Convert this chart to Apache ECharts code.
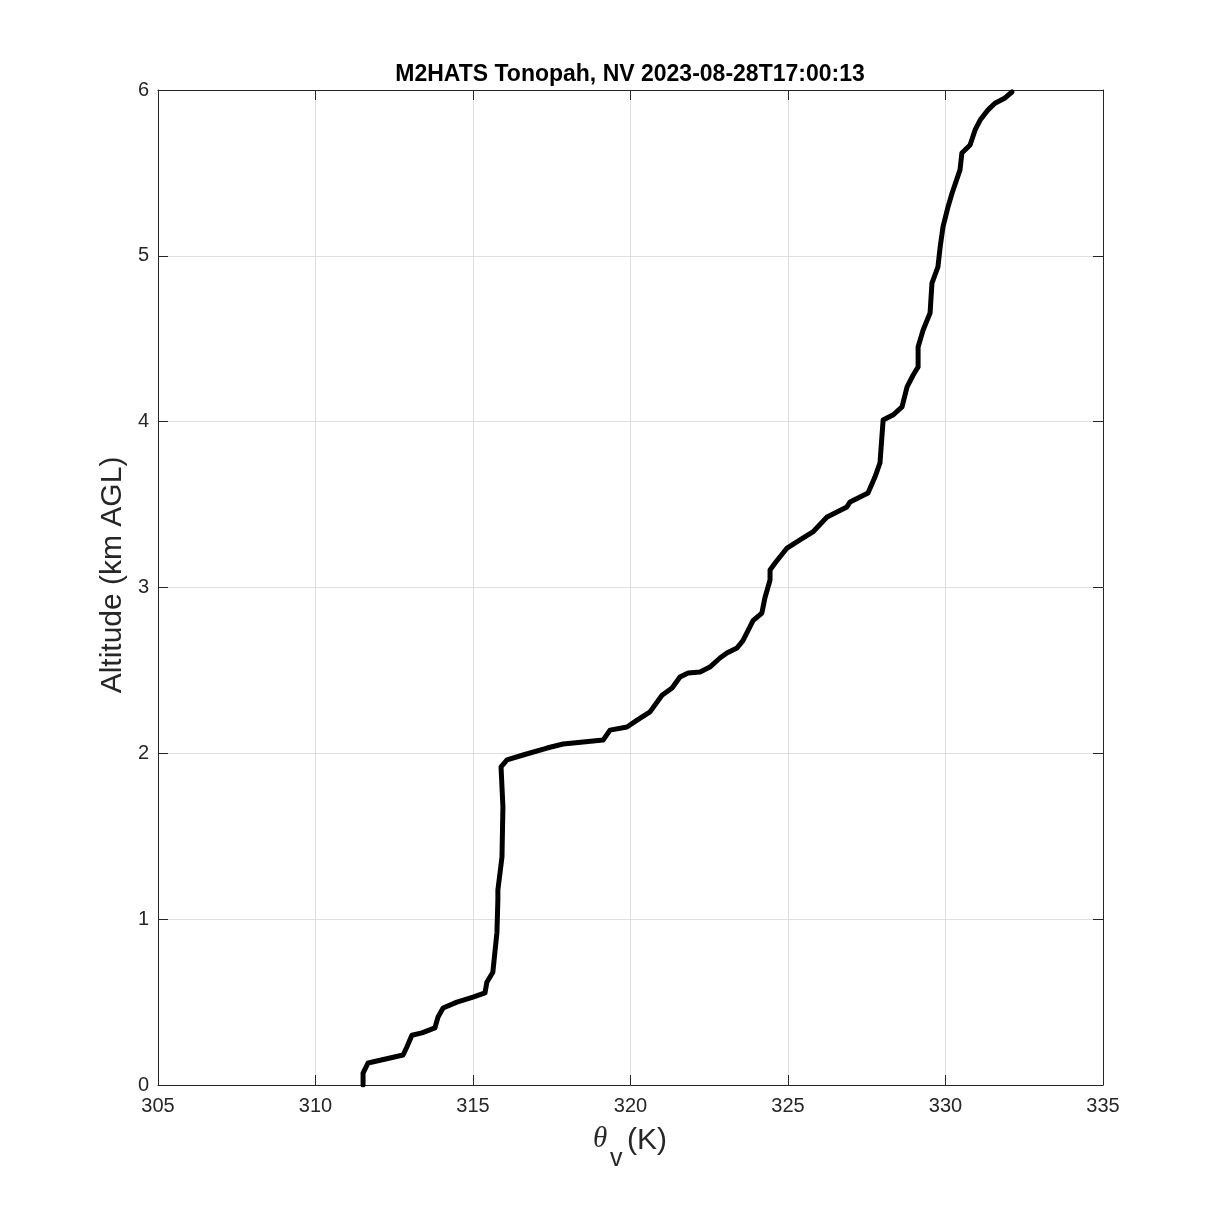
<!DOCTYPE html>
<html>
<head>
<meta charset="utf-8">
<script src="https://cdn.jsdelivr.net/npm/echarts@6/dist/echarts.min.js"></script>
<style>
html,body{margin:0;padding:0;background:#fff;}
#c{width:1219px;height:1219px;}
</style>
</head>
<body>
<div id="c"></div>
<script>
// Virtual potential temperature (K)
const thetaV = [311.51, 311.51, 311.67, 312.78, 312.90, 313.06, 313.38, 313.79, 313.89, 314.05,
  314.49, 315.00, 315.38, 315.44, 315.63, 315.70, 315.76, 315.79, 315.79, 315.92, 315.95, 315.89,
  316.08, 316.59, 317.35, 317.86, 318.50, 319.13, 319.35, 319.89, 320.21, 320.62, 321.00, 321.32,
  321.57, 321.83, 322.21, 322.52, 322.84, 323.06, 323.38, 323.57, 323.89, 324.17, 324.27, 324.43,
  324.43, 324.59, 324.97, 325.38, 325.79, 326.24, 326.87, 326.97, 327.54, 327.76, 327.92, 328.02,
  328.14, 328.33, 328.62, 328.78, 328.97, 329.13, 329.13, 329.29, 329.51, 329.57, 329.76, 329.83,
  329.92, 330.08, 330.21, 330.46, 330.52, 330.78, 330.94, 331.10, 331.35, 331.57, 331.89, 332.11];
// Altitude (km AGL)
const altitude = [0.000, 0.072, 0.133, 0.181, 0.229, 0.300, 0.314, 0.344, 0.410, 0.464,
  0.500, 0.530, 0.555, 0.620, 0.680, 0.810, 0.920, 1.120, 1.176, 1.375, 1.676, 1.918,
  1.960, 1.990, 2.032, 2.056, 2.068, 2.080, 2.140, 2.159, 2.200, 2.250, 2.350, 2.394,
  2.460, 2.485, 2.490, 2.520, 2.575, 2.605, 2.635, 2.680, 2.800, 2.846, 2.940, 3.045,
  3.106, 3.148, 3.238, 3.287, 3.335, 3.425, 3.486, 3.516, 3.570, 3.666, 3.751, 4.010,
  4.022, 4.040, 4.089, 4.210, 4.280, 4.330, 4.450, 4.553, 4.655, 4.836, 4.933, 5.053,
  5.174, 5.295, 5.379, 5.518, 5.620, 5.668, 5.759, 5.819, 5.880, 5.920, 5.952, 5.988];
const xTicks = [305, 310, 315, 320, 325, 330, 335];
const yTicks = [0, 1, 2, 3, 4, 5, 6];
const titleText = 'M2HATS Tonopah, NV 2023-08-28T17:00:13';
const yLabelText = 'Altitude (km AGL)';
const xLabelSymbol = 'θ';
const xLabelSub = 'v';
const xLabelUnit = '(K)';

const chart = echarts.init(document.getElementById('c'), null, {renderer: 'canvas'});
const axisColor = '#262626';
const font = 'Liberation Sans, Arial, Helvetica, sans-serif';
const pts = thetaV.map((t, i) => [t, altitude[i]]);

const baseAxis = {
  type: 'value',
  axisLine: {show: true, onZero: false, lineStyle: {color: axisColor, width: 1}},
  axisTick: {show: true, inside: true, length: 10, lineStyle: {color: axisColor}}
};

chart.setOption({
  animation: false,
  backgroundColor: '#ffffff',
  grid: {left: 158, right: 116, top: 90, bottom: 134, containLabel: false},
  xAxis: [Object.assign({}, baseAxis, {
    min: xTicks[0], max: xTicks[xTicks.length - 1], interval: 5, position: 'bottom',
    axisLabel: {color: axisColor, fontSize: 20, fontFamily: font, margin: 11},
    splitLine: {show: true, lineStyle: {color: '#dfdfdf', width: 1}}
  }), Object.assign({}, baseAxis, {
    min: xTicks[0], max: xTicks[xTicks.length - 1], interval: 5, position: 'top',
    axisLabel: {show: false}, splitLine: {show: false}
  })],
  yAxis: [Object.assign({}, baseAxis, {
    min: yTicks[0], max: yTicks[yTicks.length - 1], interval: 1, position: 'left',
    axisLabel: {color: axisColor, fontSize: 20, fontFamily: font, margin: 9},
    splitLine: {show: true, lineStyle: {color: '#dfdfdf', width: 1}}
  }), Object.assign({}, baseAxis, {
    min: yTicks[0], max: yTicks[yTicks.length - 1], interval: 1, position: 'right',
    axisLabel: {show: false}, splitLine: {show: false}
  })],
  graphic: [
    {type: 'text', x: 630, y: 75, silent: true,
     style: {text: titleText, fill: '#000', font: 'bold 23px ' + font, align: 'center', verticalAlign: 'middle'}},
    {type: 'text', x: 113, y: 575, rotation: Math.PI / 2, silent: true,
     style: {text: yLabelText, fill: axisColor, font: '30px ' + font, align: 'center', verticalAlign: 'middle'}},
    {type: 'text', x: 593, y: 1139, silent: true,
     style: {text: xLabelSymbol, fill: axisColor, font: 'italic 29px "Liberation Serif", "DejaVu Serif", serif', align: 'left', verticalAlign: 'middle'}},
    {type: 'text', x: 610, y: 1159, silent: true,
     style: {text: xLabelSub, fill: axisColor, font: '25px ' + font, align: 'left', verticalAlign: 'middle'}},
    {type: 'text', x: 627, y: 1141, silent: true,
     style: {text: xLabelUnit, fill: axisColor, font: '30px ' + font, align: 'left', verticalAlign: 'middle'}}
  ],
  series: [{
    type: 'line', xAxisIndex: 0, yAxisIndex: 0,
    data: pts, showSymbol: false, smooth: false,
    lineStyle: {color: '#000', width: 5, join: 'round', cap: 'round'}
  }]
});
</script>
</body>
</html>
